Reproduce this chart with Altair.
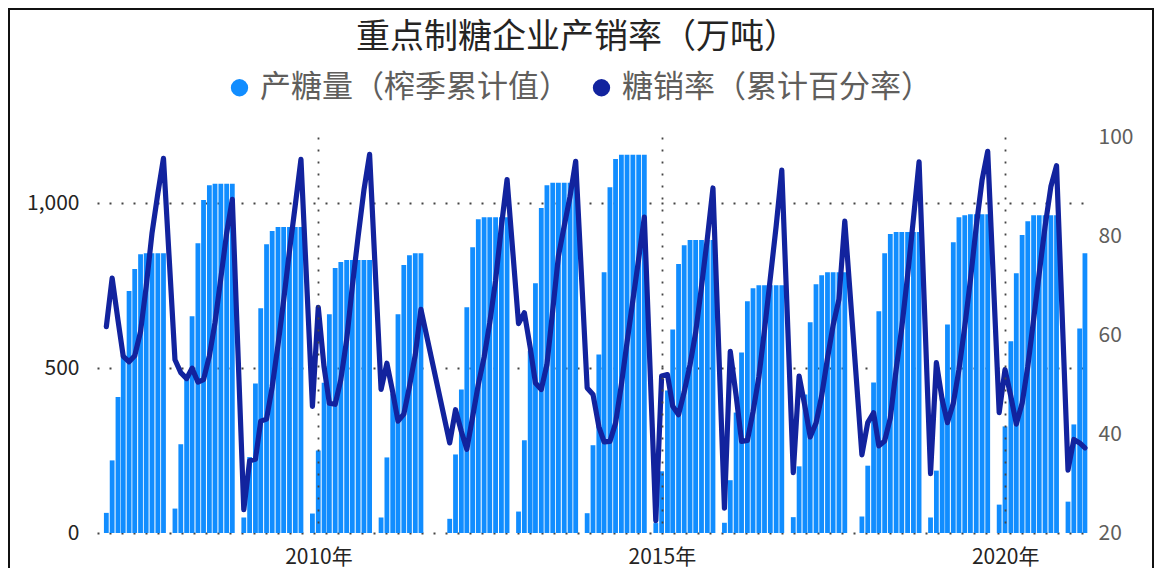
import calendar
import altair as alt
import pandas as pd

FONT = "Noto Sans CJK SC"

title_text = "重点制糖企业产销率（万吨）"
series_names = ["产糖量（榨季累计值）", "糖销率（累计百分率）"]
series_colors = ["#118DFF", "#12239E"]

start_year, start_month = 2006, 11

# 产糖量（榨季累计值, 万吨）, monthly from 2006-11; None = no data
production = [
    61, 220, 412, 540, 733, 800, 845, 848, 848, 848, 848, None,
    74, 269, 480, 657, 878, 1009, 1054, 1058, 1058, 1058, 1058, None,
    47, 230, 453, 681, 875, 915, 927, 927, 927, 927, 927, None,
    59, 250, 455, 663, 803, 821, 827, 827, 827, 827, 827, None,
    47, 229, 423, 663, 812, 842, 848, 848, None, None, None, None,
    43, 238, 435, 684, 866, 951, 957, 957, 957, 957, 957, None,
    65, 281, 552, 757, 985, 1054, 1061, 1061, 1061, 1061, 1061, None,
    60, 266, 541, 790, 1048, 1133, 1146, 1146, 1146, 1146, 1146, None,
    30, 187, 432, 617, 815, 872, 888, 888, 888, 888, 888, None,
    31, 160, 365, 547, 702, 742, 751, 751, 751, 751, 751, None,
    48, 202, 420, 639, 754, 781, 790, 790, 790, 790, None, None,
    50, 204, 456, 672, 848, 906, 912, 912, 912, 912, 912, None,
    47, 189, 410, 632, 881, 957, 963, 966, 966, 966, 966, None,
    86, 323, 581, 787, 903, 945, 963, 963, 963, 963, 963, None,
    95, 329, 620, 848,
]

# 糖销率（累计百分率, %）
sales_rate = [
    61.7, 71.5, 63.0, 55.7, 54.6, 55.8, 60.7, 69.8, 80.6, 88.6, 95.7, None,
    55.0, 52.4, 51.2, 53.3, 50.5, 51.0, 55.8, 62.5, 71.5, 80.6, 87.4, None,
    24.7, 34.6, 34.9, 42.6, 43.0, 49.5, 58.0, 67.0, 77.0, 86.3, 95.5, None,
    45.6, 65.6, 53.5, 46.2, 46.0, 51.0, 59.0, 69.8, 79.9, 89.3, 96.5, None,
    49.0, 54.3, 48.5, 42.6, 44.0, 49.6, 56.0, 65.2, None, None, None, None,
    38.2, 44.9, 40.5, 36.9, 43.5, 50.0, 55.5, 62.5, 71.0, 82.0, 91.4, None,
    62.3, 64.5, 57.5, 50.3, 49.0, 54.0, 65.0, 75.9, 82.0, 88.0, 95.1, None,
    49.3, 48.0, 41.5, 38.4, 38.5, 42.2, 50.0, 58.5, 67.0, 75.4, 83.8, None,
    22.5, 51.7, 52.0, 45.6, 43.9, 48.5, 54.0, 60.5, 69.8, 79.5, 89.7, None,
    25.0, 56.7, 47.8, 38.5, 38.7, 44.5, 51.5, 61.0, 71.5, 82.0, 93.3, None,
    32.2, 51.7, 45.6, 39.4, 42.2, 47.7, 55.3, 62.0, 67.2, 83.0, None, None,
    35.8, 42.3, 44.3, 37.6, 38.6, 43.2, 53.0, 61.5, 72.0, 83.5, 95.0, None,
    32.0, 54.4, 46.9, 42.3, 46.2, 53.0, 61.7, 71.1, 81.9, 91.3, 97.1, None,
    44.3, 53.0, 47.6, 42.0, 46.2, 53.6, 63.1, 72.5, 81.9, 90.0, 94.2, None,
    32.7, 38.9, 38.2, 37.2,
]

left_ticks = [0, 500, 1000]
right_ticks = [20, 40, 60, 80, 100]
x_tick_years = [2010, 2015, 2020]

# month-end dates for each monthly observation
months = []
yy, mm = start_year, start_month
for _ in range(len(production)):
    months.append(f"{yy:04d}-{mm:02d}-{calendar.monthrange(yy, mm)[1]:02d}")
    mm += 1
    if mm > 12:
        mm = 1
        yy += 1

bars_df = pd.DataFrame({"date": months, "value": production, "series": series_names[0]}).dropna()
line_df = pd.DataFrame({"date": months, "rate": sales_rate, "series": series_names[1]}).dropna()
frame_df = pd.DataFrame({"k": [0]})

color_scale = alt.Scale(domain=series_names, range=series_colors)

x_enc = alt.X(
    "date:T",
    scale=alt.Scale(
        type="utc",
        domain=[alt.DateTime(year=2006, month=11, date=7, utc=True),
                alt.DateTime(year=2021, month=3, date=11, utc=True)],
    ),
    axis=alt.Axis(
        values=[alt.DateTime(year=y, month=1, date=1, utc=True) for y in x_tick_years],
        labelExpr="utcFormat(datum.value, '%Y') + '年'", title=None,
        grid=True, gridDash=[2, 10], gridColor="#444444", gridWidth=1.8,
        domain=False, ticks=False, labelFont=FONT, labelFontSize=21,
        labelColor="#252423", labelPadding=13, zindex=1,
    ),
)

# outer frame of the chart card
frame = alt.Chart(frame_df).mark_rect(
    filled=False, color="#111111", stroke="#111111", strokeWidth=2, clip=False
).encode(
    x=alt.value(-88), x2=alt.value(1056), y=alt.value(-128), y2=alt.value(470)
)

bars = alt.Chart(bars_df).mark_bar(size=4.8).encode(
    x=x_enc,
    y=alt.Y(
        "value:Q",
        scale=alt.Scale(domain=[0, 1200], nice=False),
        axis=alt.Axis(
            values=left_ticks, format=",.0f", title=None, grid=True,
            gridDash=[2, 10], gridColor="#444444", gridWidth=1.8,
            domain=False, ticks=False, labelFont=FONT, labelFontSize=21,
            labelColor="#252423", labelPadding=18, zindex=0,
        ),
    ),
    color=alt.Color(
        "series:N", scale=color_scale,
        legend=alt.Legend(
            title=None, orient="none", legendX=127, legendY=-65,
            direction="horizontal", symbolType="circle", symbolSize=300,
            labelFont=FONT, labelFontSize=31, labelColor="#605E5C",
            labelLimit=0, columnPadding=16, labelOffset=5, padding=0,
            symbolStrokeWidth=0,
        ),
    ),
)

line = alt.Chart(line_df).mark_line(strokeWidth=5.2, strokeJoin="round", strokeCap="round").encode(
    x=x_enc,
    y=alt.Y(
        "rate:Q",
        scale=alt.Scale(domain=[20, 100], nice=False),
        axis=alt.Axis(
            orient="right", values=right_ticks, title=None, grid=False,
            domain=False, ticks=False, labelFont=FONT, labelFontSize=21,
            labelColor="#605E5C", labelPadding=6,
        ),
    ),
    color=alt.Color("series:N", scale=color_scale, legend=None),
)

chart = (
    alt.layer(frame, bars, line)
    .resolve_scale(y="independent")
    .properties(
        width=995, height=396,
        padding={"left": 89, "top": 129, "right": 62, "bottom": 35},
        autosize=alt.AutoSizeParams(type="none"),
        view=alt.ViewBackground(stroke="transparent", strokeWidth=0),
        title=alt.Title(
            title_text, font=FONT, fontSize=34, fontWeight="normal",
            color="#252423", anchor="middle", frame="bounds",
            offset=-47, dx=-4,
        ),
    )
    .configure_view(strokeWidth=0, stroke="transparent")
    .configure(background="white")
)

chart.save("out.html", embed_options={"renderer": "svg", "actions": False})
